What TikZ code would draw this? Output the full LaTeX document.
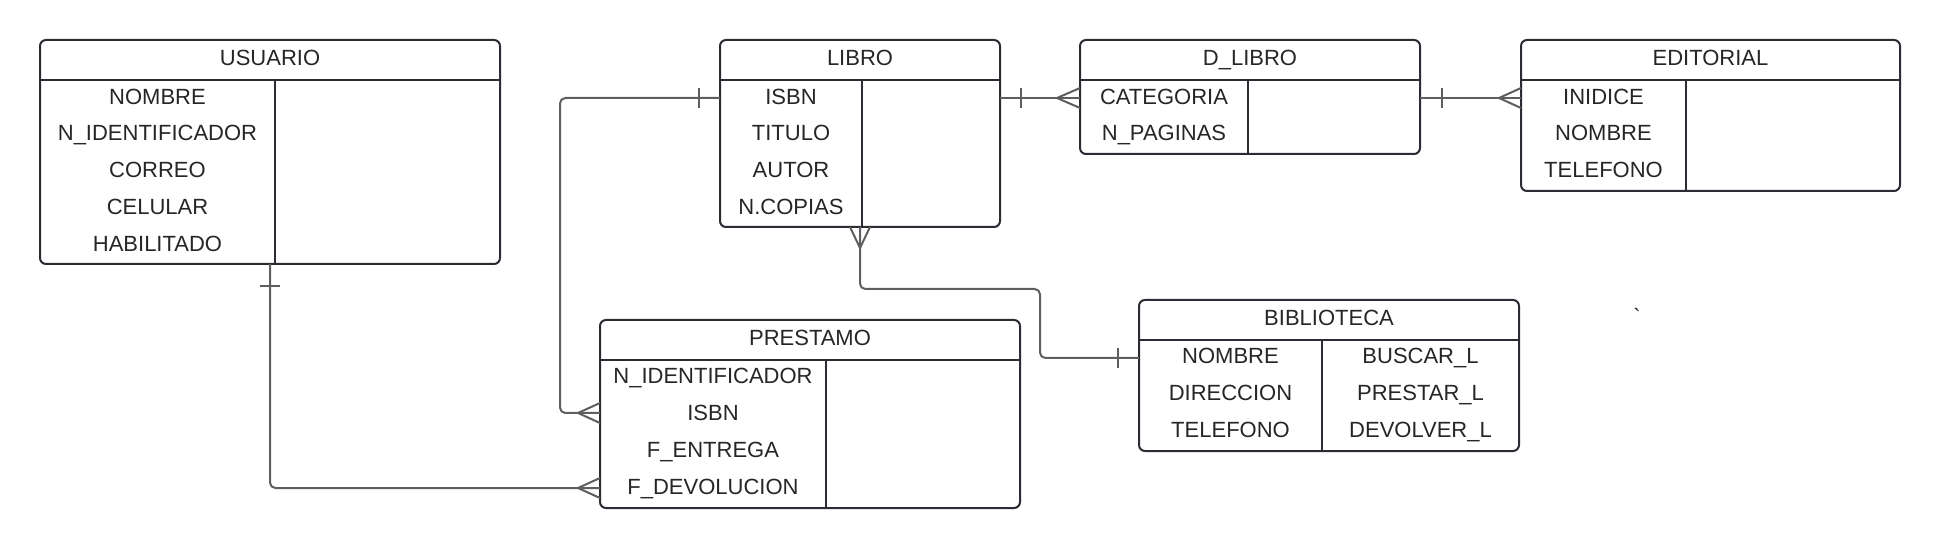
\documentclass[tikz,border=0pt]{standalone}
\usepackage{fontspec}
\setmainfont{Liberation Sans}
\usetikzlibrary{calc}
\definecolor{boxc}{HTML}{2B2B33}
\definecolor{linkc}{HTML}{5E5E5E}
\definecolor{txtc}{HTML}{262626}
\begin{document}
\begin{tikzpicture}[x=0.75pt,y=-0.75pt,
  entity/.style={draw=boxc, fill=white, line width=1.5pt, rounded corners=4.5pt, anchor=north west, inner sep=0pt, outer sep=0pt},
  divider/.style={draw=boxc, line width=1.5pt},
  lbl/.style={text=txtc, font=\fontsize{16.5}{19.8}\selectfont, inner sep=0pt, text height=11.8pt, text depth=0pt},
  link/.style={draw=linkc, line width=1.5pt, rounded corners=4pt},
  linkplain/.style={draw=linkc, line width=1.5pt}]
\useasboundingbox (0,0) rectangle (1940,548);

% ---------- USUARIO ----------
\node[entity, minimum width=460*0.75pt, minimum height=224*0.75pt] (usuario) at (40,40) {};
\draw[divider] (40,80) -- (500,80) (275,80) -- (275,264);
\node[lbl] (usuariot) at (270,58) {USUARIO};
\node[lbl] (usuario1) at (157.5,97) {NOMBRE};
\node[lbl] (usuario2) at (157.5,133) {N\_IDENTIFICADOR};
\node[lbl] (usuario3) at (157.5,170) {CORREO};
\node[lbl] (usuario4) at (157.5,207) {CELULAR};
\node[lbl] (usuario5) at (157.5,244) {HABILITADO};

% ---------- LIBRO ----------
\node[entity, minimum width=280*0.75pt, minimum height=187*0.75pt] (libro) at (720,40) {};
\draw[divider] (720,80) -- (1000,80) (862,80) -- (862,227);
\node[lbl] (librot) at (860,58) {LIBRO};
\node[lbl] (libro1) at (791,97) {ISBN};
\node[lbl] (libro2) at (791,133) {TITULO};
\node[lbl] (libro3) at (791,170) {AUTOR};
\node[lbl] (libro4) at (791,207) {N.COPIAS};

% ---------- D_LIBRO ----------
\node[entity, minimum width=340*0.75pt, minimum height=114*0.75pt] (dlibro) at (1080,40) {};
\draw[divider] (1080,80) -- (1420,80) (1248,80) -- (1248,154);
\node[lbl] (dlibrot) at (1250,58) {D\_LIBRO};
\node[lbl] (dlibro1) at (1164,97) {CATEGORIA};
\node[lbl] (dlibro2) at (1164,133) {N\_PAGINAS};

% ---------- EDITORIAL ----------
\node[entity, minimum width=379*0.75pt, minimum height=151*0.75pt] (editorial) at (1521,40) {};
\draw[divider] (1521,80) -- (1900,80) (1686,80) -- (1686,191);
\node[lbl] (editorialt) at (1710.5,58) {EDITORIAL};
\node[lbl] (editorial1) at (1603.5,97) {INIDICE};
\node[lbl] (editorial2) at (1603.5,133) {NOMBRE};
\node[lbl] (editorial3) at (1603.5,170) {TELEFONO};

% ---------- PRESTAMO ----------
\node[entity, minimum width=420*0.75pt, minimum height=188*0.75pt] (prestamo) at (600,320) {};
\draw[divider] (600,360) -- (1020,360) (826,360) -- (826,508);
\node[lbl] (prestamot) at (810,338) {PRESTAMO};
\node[lbl] (prestamo1) at (713,376) {N\_IDENTIFICADOR};
\node[lbl] (prestamo2) at (713,413) {ISBN};
\node[lbl] (prestamo3) at (713,450) {F\_ENTREGA};
\node[lbl] (prestamo4) at (713,487) {F\_DEVOLUCION};

% ---------- BIBLIOTECA ----------
\node[entity, minimum width=380*0.75pt, minimum height=151*0.75pt] (biblioteca) at (1139,300) {};
\draw[divider] (1139,340) -- (1519,340) (1322,340) -- (1322,451);
\node[lbl] (bibliotecat) at (1329,318) {BIBLIOTECA};
\node[lbl] (biblioteca1) at (1230.5,356) {NOMBRE};
\node[lbl] (biblioteca2) at (1230.5,393) {DIRECCION};
\node[lbl] (biblioteca3) at (1230.5,430) {TELEFONO};
\node[lbl] (biblioteca4) at (1420.5,356) {BUSCAR\_L};
\node[lbl] (biblioteca5) at (1420.5,393) {PRESTAR\_L};
\node[lbl] (biblioteca6) at (1420.5,430) {DEVOLVER\_L};

% stray mark (grave accent, set as a glyph to bypass the TeX quote mapping)
\node[text=txtc, font=\fontsize{16.5}{19.8}\selectfont, inner sep=0pt, anchor=base] (grave) at (1637,325) {\XeTeXglyph\XeTeXcharglyph"60\relax};

% ---------- connectors ----------
% LIBRO (1) -- PRESTAMO (many)
\coordinate (a0) at ($(libro.west |- libro1)+(0,1)$);
\coordinate (a1) at ($(prestamo.west |- prestamo2)$);
\draw[link] (a0) -- ++(-160,0) |- (a1);
\draw[linkplain] ($(a0)+(-21,-10)$) -- ($(a0)+(-21,10)$);
\draw[linkplain] ($(a1)+(-22,0)$) -- ($(a1)+(0,-10)$) ($(a1)+(-22,0)$) -- ($(a1)+(0,10)$);

% USUARIO (1) -- PRESTAMO (many)
\coordinate (b0) at ($(usuario.south west)+(230,0)$);
\coordinate (b1) at ($(prestamo.west |- prestamo4)+(0,1)$);
\draw[link] (b0) |- (b1);
\draw[linkplain] ($(b0)+(-10,22)$) -- ($(b0)+(10,22)$);
\draw[linkplain] ($(b1)+(-22,0)$) -- ($(b1)+(0,-10)$) ($(b1)+(-22,0)$) -- ($(b1)+(0,10)$);

% LIBRO (1) -- D_LIBRO (many)
\coordinate (c0) at ($(libro.east |- libro1)+(0,1)$);
\coordinate (c1) at ($(dlibro.west |- dlibro1)+(0,1)$);
\draw[link] (c0) -- (c1);
\draw[linkplain] ($(c0)+(21,-10)$) -- ($(c0)+(21,10)$);
\draw[linkplain] ($(c1)+(-23,0)$) -- ($(c1)+(0,-10)$) ($(c1)+(-23,0)$) -- ($(c1)+(0,10)$);

% D_LIBRO (1) -- EDITORIAL (many)
\coordinate (d0) at ($(dlibro.east |- dlibro1)+(0,1)$);
\coordinate (d1) at ($(editorial.west |- editorial1)+(0,1)$);
\draw[link] (d0) -- (d1);
\draw[linkplain] ($(d0)+(22,-10)$) -- ($(d0)+(22,10)$);
\draw[linkplain] ($(d1)+(-22,0)$) -- ($(d1)+(0,-10)$) ($(d1)+(-22,0)$) -- ($(d1)+(0,10)$);

% LIBRO (many) -- BIBLIOTECA (1)
\coordinate (e0) at ($(libro.south west)+(140,0)$);
\coordinate (e1) at ($(biblioteca.west |- biblioteca1)+(0,2)$);
\draw[link] (e0) |- ($(e0)+(180,62)$) |- (e1);
\draw[linkplain] ($(e0)+(0,21)$) -- ($(e0)+(-10,0)$) ($(e0)+(0,21)$) -- ($(e0)+(10,0)$);
\draw[linkplain] ($(e1)+(-21,-10)$) -- ($(e1)+(-21,10)$);
\end{tikzpicture}
\end{document}
